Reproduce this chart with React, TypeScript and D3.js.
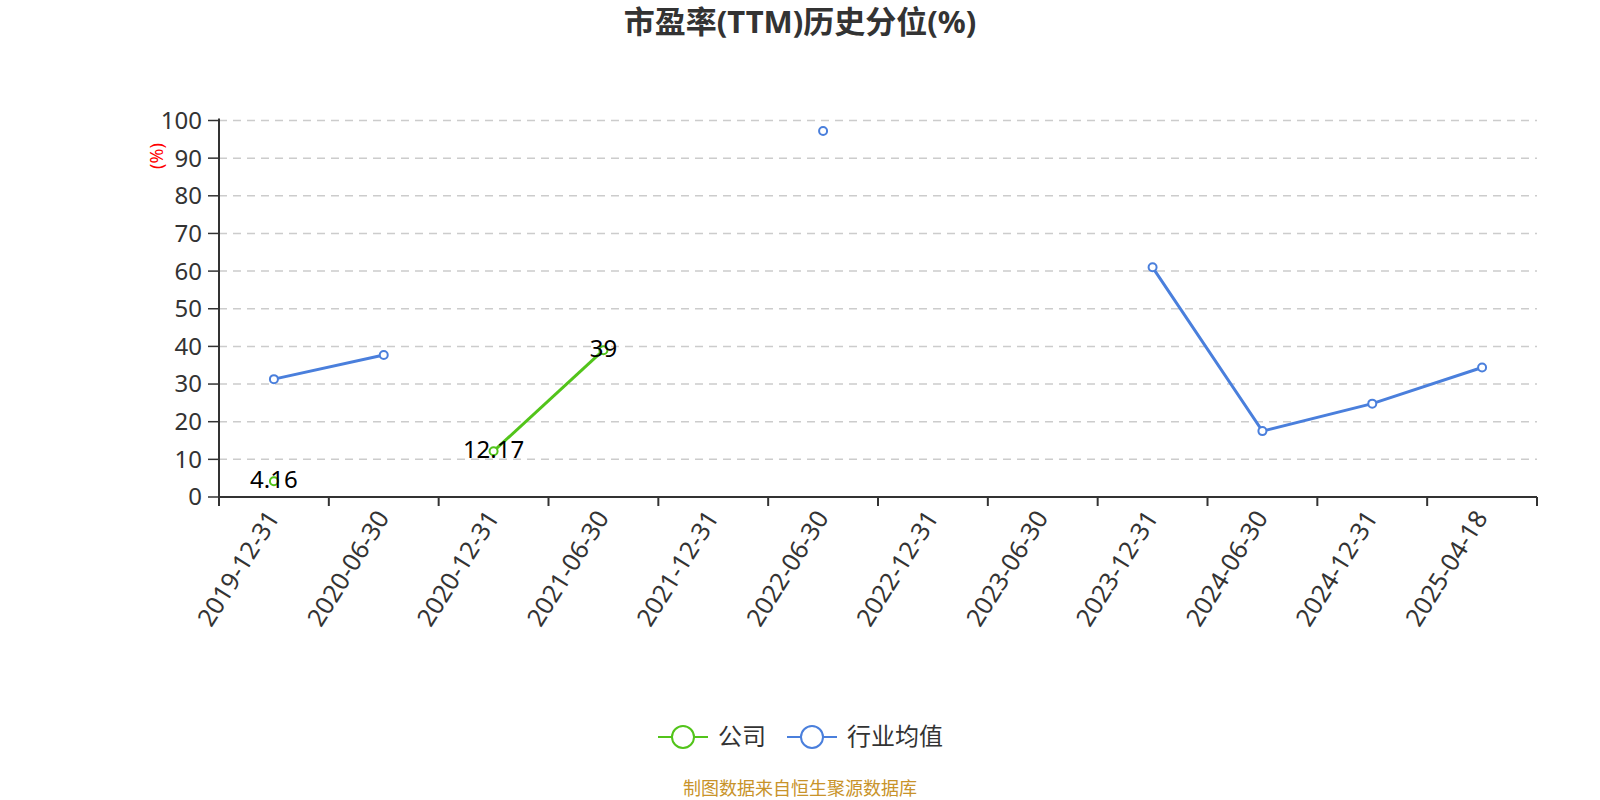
import React from "react";
import * as d3 from "d3";

const categories = ["2019-12-31","2020-06-30","2020-12-31","2021-06-30","2021-12-31","2022-06-30","2022-12-31","2023-06-30","2023-12-31","2024-06-30","2024-12-31","2025-04-18"];
const companyValues: (number | null)[] = [4.16, null, 12.17, 39, null, null, null, null, null, null, null, null];
const industryValues: (number | null)[] = [31.3, 37.7, null, null, null, 97.2, null, null, 61.0, 17.5, 24.8, 34.4];
const yTicks = [0, 10, 20, 30, 40, 50, 60, 70, 80, 90, 100];

const GREEN = "#52c41a";
const BLUE = "#4a7fdc";
const FONT = "'Microsoft YaHei', 'Noto Sans', 'Noto Sans CJK SC', sans-serif";

export default function App() {
  const W = 1600, H = 800;
  const left = 219, right = 1537, top = 120.5, bottom = 497;
  const x = d3.scaleBand<string>().domain(categories).range([left, right]);
  const y = d3.scaleLinear().domain([0, 100]).range([bottom, top]);
  const cx = (c: string) => (x(c) as number) + x.bandwidth() / 2;

  const line = d3.line<[string, number | null]>()
    .defined(d => d[1] != null)
    .x(d => cx(d[0]))
    .y(d => y(d[1] as number));

  const comp = categories.map((c, i) => [c, companyValues[i]] as [string, number | null]);
  const ind = categories.map((c, i) => [c, industryValues[i]] as [string, number | null]);

  return (
    <svg width={W} height={H} style={{ display: "block", position: "absolute", left: 0, top: 0 }} fontFamily={FONT}>
      <rect width={W} height={H} fill="#fff" />
      <text x={800} y={33} textAnchor="middle" fontSize={31} fontWeight="bold" fill="#333">市盈率(TTM)历史分位(%)</text>
      <text transform={`translate(157,156) rotate(-90)`} textAnchor="middle" dy="0.35em" fontSize={18} fill="red">(%)</text>
      {yTicks.map(t => (
        <g key={t}>
          {t > 0 && <line x1={left} x2={right} y1={y(t)} y2={y(t)} stroke="#ccc" strokeWidth={1.5} strokeDasharray="8,6" />}
          <line x1={left - 11} x2={left} y1={y(t)} y2={y(t)} stroke="#333" strokeWidth={1.5} />
          <text x={left - 17} y={y(t)} dy="0.35em" textAnchor="end" fontSize={24} fill="#333">{t}</text>
        </g>
      ))}
      <line x1={left} x2={left} y1={top - 2} y2={bottom + 9} stroke="#333" strokeWidth={2} />
      <line x1={left} x2={right} y1={bottom} y2={bottom} stroke="#333" strokeWidth={2} />
      {categories.map((c, i) => (
        <line key={"t" + i} x1={x(c) as number} x2={x(c) as number} y1={bottom} y2={bottom + 9} stroke="#333" strokeWidth={2} />
      ))}
      <line x1={right} x2={right} y1={bottom} y2={bottom + 9} stroke="#333" strokeWidth={2} />
      {categories.map((c, i) => (
        <text key={"l" + i} transform={`translate(${cx(c) - 1},${bottom + 16}) rotate(-58)`} textAnchor="end" dy="0.35em" fontSize={25} fill="#333">{c}</text>
      ))}
      <path d={line(ind) || ""} fill="none" stroke={BLUE} strokeWidth={3} />
      <path d={line(comp) || ""} fill="none" stroke={GREEN} strokeWidth={3} />
      {ind.filter(d => d[1] != null).map((d, i) => (
        <circle key={"bi" + i} cx={cx(d[0])} cy={y(d[1] as number)} r={4} fill="#fff" stroke={BLUE} strokeWidth={2} />
      ))}
      {comp.filter(d => d[1] != null).map((d, i) => (
        <circle key={"gi" + i} cx={cx(d[0])} cy={y(d[1] as number)} r={4} fill="#fff" stroke={GREEN} strokeWidth={2} />
      ))}
      {comp.filter(d => d[1] != null).map((d, i) => (
        <text key={"gl" + i} x={cx(d[0])} y={y(d[1] as number) - 2} dy="0.35em" textAnchor="middle" fontSize={24} fill="#000">{String(d[1])}</text>
      ))}
      <g>
        <line x1={658} x2={708} y1={737} y2={737} stroke={GREEN} strokeWidth={2} />
        <circle cx={683} cy={737} r={11} fill="#fff" stroke={GREEN} strokeWidth={2} />
        <text x={718} y={737} dy="0.35em" fontSize={24} fill="#333">公司</text>
        <line x1={787} x2={837} y1={737} y2={737} stroke={BLUE} strokeWidth={2} />
        <circle cx={812} cy={737} r={11} fill="#fff" stroke={BLUE} strokeWidth={2} />
        <text x={847} y={737} dy="0.35em" fontSize={24} fill="#333">行业均值</text>
      </g>
      <text x={800} y={795} textAnchor="middle" fontSize={18} fill="#c8932a">制图数据来自恒生聚源数据库</text>
    </svg>
  );
}
